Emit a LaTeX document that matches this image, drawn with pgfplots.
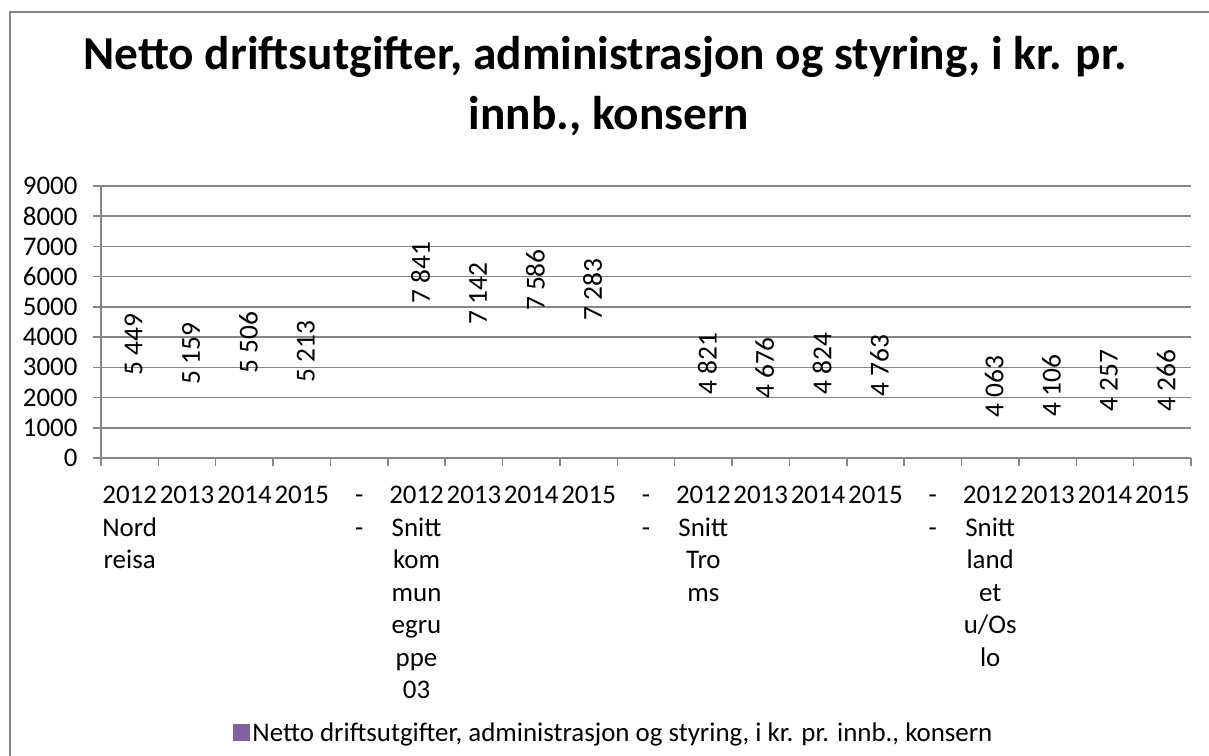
\documentclass[border=0pt]{standalone}
\usepackage{pgfplots}
\pgfplotsset{compat=1.18}
\usepackage{fontspec}
\setmainfont{Carlito}
\definecolor{gridgray}{HTML}{868686}
\definecolor{legpurple}{HTML}{8064A2}
\newcommand{\gap}{{\vphantom{2}-\\\vphantom{2}-}}
\begin{document}
\begin{tikzpicture}[x=1bp,y=1bp]
\useasboundingbox (0,0) rectangle (1209,756);
\draw[gridgray, line width=1.5bp] (10,744) rectangle (1240,-30);
\node[font=\fontsize{47.5}{60}\selectfont\bfseries, anchor=base] at (605,686) {Netto driftsutgifter, administrasjon og styring, i kr. pr.};
\node[font=\fontsize{47.5}{60}\selectfont\bfseries, anchor=base] at (609,626) {innb., konsern};
\begin{axis}[
  at={(101bp,298bp)}, anchor=south west,
  scale only axis, width=1090bp, height=272bp,
  xmin=-0.5, xmax=18.5, ymin=0, ymax=9000,
  ytick={0,1000,...,9000},
  axis x line*=bottom, axis y line*=left,
  axis line style={gridgray, line width=1.5bp, -},
  ymajorgrids, major grid style={gridgray, line width=1.5bp},
  tick align=outside, major tick length=8bp,
  tick style={gridgray, line width=1.5bp},
  xtick={-0.5,0.5,...,18.5},
  xticklabels={{2012\\Nord\\reisa},2013,2014,2015,{\vphantom{2}-\\\vphantom{2}-},{2012\\Snitt\\kom\\mun\\egru\\ppe\\03},2013,2014,2015,{\vphantom{2}-\\\vphantom{2}-},{2012\\Snitt\\Tro\\ms},2013,2014,2015,{\vphantom{2}-\\\vphantom{2}-},{2012\\Snitt\\land\\et\\u/Os\\lo},2013,2014,2015,{}},
  xticklabel style={font=\fontsize{27}{32.6}\selectfont, align=center, anchor=north, xshift=28.68bp, yshift=-17bp},
  yticklabel style={font=\fontsize{27}{30}\selectfont, xshift=-12bp},
  /pgf/number format/assume math mode=true,
  /pgf/number format/1000 sep={},
  legend style={at={(0.4706,-1.011)}, anchor=center, draw=none, fill=none, font=\fontsize{27}{30}\selectfont, inner sep=0pt},
  legend cell align=left,
  clip=false,
]
\addplot[ybar, bar width=20bp, draw=none, fill=none,
  point meta=explicit symbolic,
  nodes near coords,
  every node near coord/.append style={font=\fontsize{27.5}{30}\selectfont, rotate=90, anchor=east, xshift=-17bp, yshift=-4bp},
  legend image code/.code={\fill[legpurple] (0bp,-8.5bp) rectangle (17bp,8.5bp);}]
coordinates {
(0,5449) [5 449]
(1,5159) [5 159]
(2,5506) [5 506]
(3,5213) [5 213]
(5,7841) [7 841]
(6,7142) [7 142]
(7,7586) [7 586]
(8,7283) [7 283]
(10,4821) [4 821]
(11,4676) [4 676]
(12,4824) [4 824]
(13,4763) [4 763]
(15,4063) [4 063]
(16,4106) [4 106]
(17,4257) [4 257]
(18,4266) [4 266]
};
\addlegendentry{Netto driftsutgifter, administrasjon og styring, i kr. pr. innb., konsern}
\end{axis}
\end{tikzpicture}
\end{document}
